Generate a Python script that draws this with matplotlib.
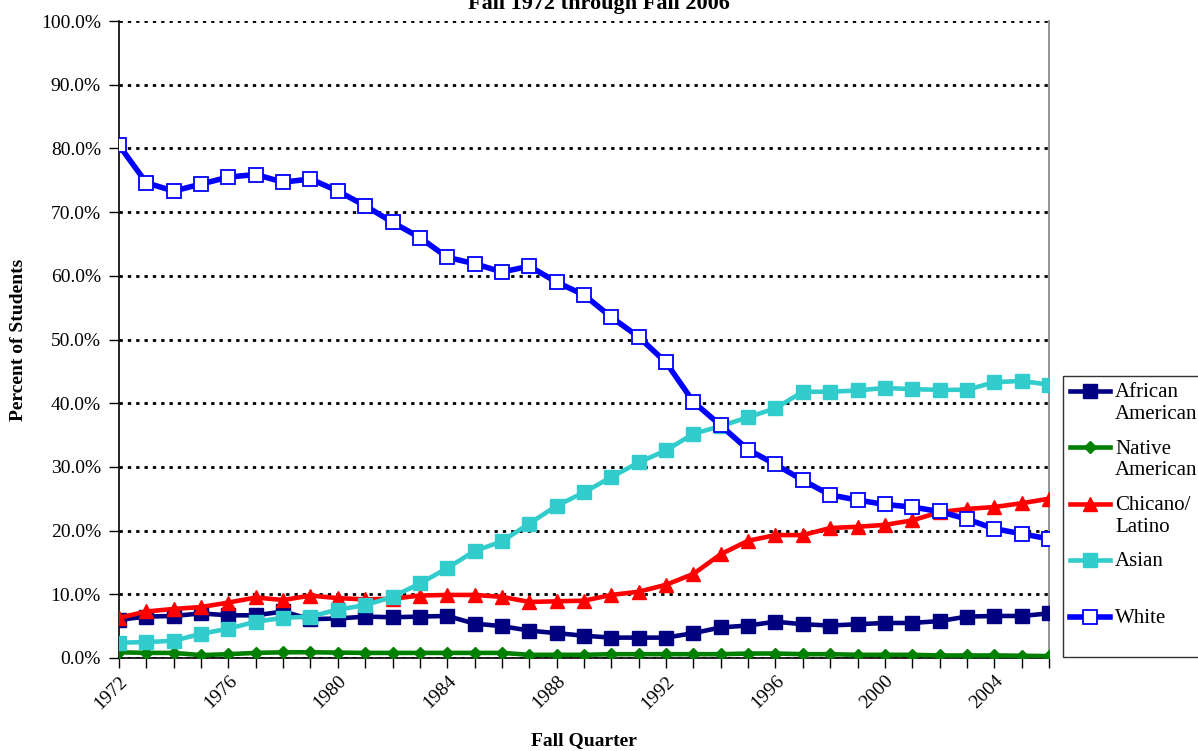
import numpy as np
import matplotlib
matplotlib.use("Agg")
import matplotlib.pyplot as plt
from matplotlib.ticker import FuncFormatter
from matplotlib.legend_handler import HandlerLine2D

years = list(range(1972, 2007))

african = [6.0, 6.5, 6.6, 7.0, 6.7, 6.7, 7.3, 6.1, 6.2, 6.5, 6.4, 6.5, 6.6, 5.4, 5.0,
           4.3, 3.9, 3.5, 3.2, 3.2, 3.2, 3.9, 4.8, 5.1, 5.7, 5.3, 5.1, 5.3, 5.5, 5.5,
           5.8, 6.5, 6.6, 6.6, 7.0]
native = [0.9, 0.8, 0.8, 0.45, 0.6, 0.8, 0.9, 0.9, 0.85, 0.8, 0.8, 0.8, 0.8, 0.8, 0.8,
          0.5, 0.5, 0.5, 0.6, 0.6, 0.6, 0.6, 0.6, 0.7, 0.7, 0.6, 0.6, 0.5, 0.5, 0.5,
          0.4, 0.4, 0.4, 0.35, 0.3]
chicano = [6.3, 7.3, 7.7, 8.0, 8.7, 9.5, 9.1, 9.8, 9.4, 9.2, 9.3, 9.8, 9.9, 9.9, 9.6,
           8.8, 8.9, 9.0, 9.9, 10.4, 11.5, 13.2, 16.3, 18.4, 19.3, 19.3, 20.4, 20.6,
           20.9, 21.6, 22.9, 23.4, 23.7, 24.3, 25.0]
asian = [2.4, 2.5, 2.7, 3.8, 4.6, 5.7, 6.3, 6.5, 7.6, 8.3, 9.6, 11.7, 14.1, 16.8, 18.3,
         21.1, 23.9, 26.0, 28.4, 30.7, 32.6, 35.2, 36.4, 37.8, 39.2, 41.8, 41.8, 42.0,
         42.4, 42.2, 42.1, 42.1, 43.3, 43.5, 42.9]
white = [80.5, 74.6, 73.3, 74.4, 75.5, 75.9, 74.7, 75.2, 73.3, 71.0, 68.4, 66.0, 62.9,
         61.9, 60.6, 61.5, 59.0, 57.0, 53.5, 50.4, 46.4, 40.2, 36.5, 32.7, 30.4, 27.9,
         25.6, 24.8, 24.1, 23.7, 23.0, 21.8, 20.3, 19.5, 18.7]

LEG_FS = 15


class TopLineHandler(HandlerLine2D):
    # put the legend handle next to the first line of a two-line label
    def create_artists(self, *args, **kwargs):
        artists = super().create_artists(*args, **kwargs)
        for a in artists:
            a.set_ydata(np.asarray(a.get_ydata(), dtype=float) + 0.6 * LEG_FS)
        return artists


plt.rcParams['font.family'] = ['Liberation Serif', 'DejaVu Serif']

fig = plt.figure(figsize=(11.98, 7.51), dpi=100)
ax = fig.add_axes([119 / 1198, 93 / 751, 930 / 1198, 637 / 751])

ax.plot(years, african, color='#000080', lw=3.3, marker='s', ms=10, label='African\nAmerican', zorder=3)
ax.plot(years, native, color='#008000', lw=3.3, marker='D', ms=6.5, label='Native\nAmerican', zorder=3)
ax.plot(years, chicano, color='#FF0000', lw=3.3, marker='^', ms=10.5, label='Chicano/\nLatino', zorder=3)
ax.plot(years, asian, color='#33CCCC', lw=3.3, marker='s', ms=10, label='Asian\n ', zorder=3)
ax.plot(years, white, color='#0000FF', lw=4, marker='s', ms=9.5, mfc='white', mec='#0000FF',
        mew=1.3, label='White\n ', zorder=3)

ax.set_xlim(1972, 2006)
ax.set_ylim(0, 100)
ax.set_yticks(np.arange(0, 101, 10))
ax.yaxis.set_major_formatter(FuncFormatter(lambda v, p: '%.1f%%' % v))
ax.set_xticks(years, minor=True)
ax.set_xticks(range(1972, 2006, 4))
ax.tick_params(axis='both', which='both', direction='out', length=7, width=1, labelsize=14)
ax.tick_params(axis='y', pad=6)
plt.setp(ax.get_xticklabels(), rotation=45, ha='right', rotation_mode='anchor')

ax.grid(axis='y', color='black', linestyle=(0, (1.2, 1.8)), lw=2, zorder=1)
ax.spines['top'].set_visible(False)
ax.spines['right'].set_color('#808080')
ax.spines['right'].set_linewidth(1.2)
ax.spines['left'].set_linewidth(1.2)
ax.spines['bottom'].set_linewidth(1.2)

ax.set_ylabel('Percent of Students', fontsize=14, fontweight='bold', labelpad=10)
ax.set_xlabel('Fall Quarter', fontsize=14, fontweight='bold', labelpad=14)
fig.text(0.5, 0.995, 'Fall 1972 through Fall 2006', ha='center', va='center',
         fontsize=16, fontweight='bold')

leg = fig.legend(loc='lower left', bbox_to_anchor=(1063 / 1198, 94 / 751), fontsize=LEG_FS,
                 frameon=True, fancybox=False, edgecolor='black', handlelength=1.9,
                 handletextpad=0.25, borderaxespad=0, labelspacing=0.75, borderpad=0.35,
                 handler_map={matplotlib.lines.Line2D: TopLineHandler()})
leg.get_frame().set_linewidth(1)

fig.savefig('out.png', dpi=100)
